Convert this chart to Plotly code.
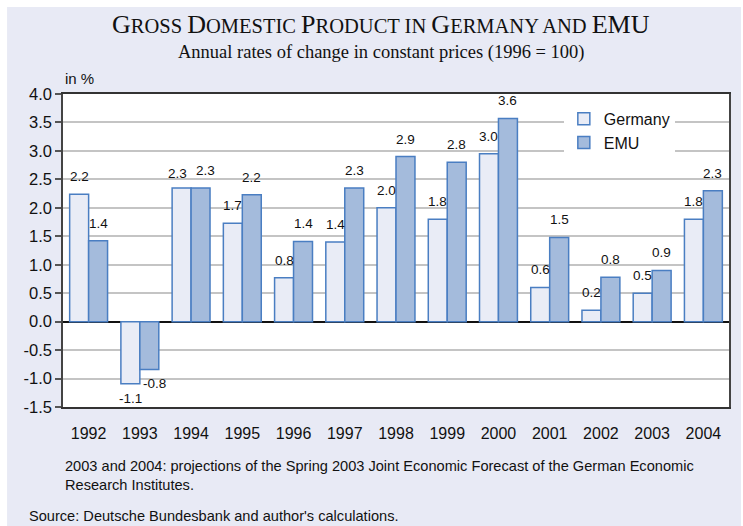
import plotly.graph_objects as go

years = ["1992", "1993", "1994", "1995", "1996", "1997", "1998",
         "1999", "2000", "2001", "2002", "2003", "2004"]
germany = [2.24, -1.09, 2.35, 1.73, 0.77, 1.40, 2.00, 1.80, 2.95, 0.60, 0.20, 0.50, 1.80]
emu = [1.42, -0.84, 2.35, 2.23, 1.41, 2.35, 2.90, 2.80, 3.57, 1.48, 0.78, 0.90, 2.30]
germany_labels = ["2.2", "-1.1", "2.3", "1.7", "0.8", "1.4", "2.0", "1.8", "3.0", "0.6", "0.2", "0.5", "1.8"]
emu_labels = ["1.4", "-0.8", "2.3", "2.2", "1.4", "2.3", "2.9", "2.8", "3.6", "1.5", "0.8", "0.9", "2.3"]
y_ticks = [-1.5, -1.0, -0.5, 0.0, 0.5, 1.0, 1.5, 2.0, 2.5, 3.0, 3.5, 4.0]

BG = "rgb(232,234,245)"
LINE = "#4A7EC2"
SANS = "Liberation Sans, Arial"
SERIF = "Liberation Serif, Times New Roman"

fig = go.Figure()
fig.add_trace(go.Bar(
    name="Germany", x=years, y=germany, legendgroup="g",
    marker=dict(color="#E9ECF6", line=dict(color=LINE, width=1.5)),
))
fig.add_trace(go.Bar(
    name="EMU", x=years, y=emu, legendgroup="e",
    marker=dict(color="#A4BBDC", line=dict(color=LINE, width=1.5)),
))

annotations = []
half = 9.5
lab_font = dict(family=SANS, size=13.5, color="#111")
for i in range(len(years)):
    g, e = germany[i], emu[i]
    spread = 4.5 if abs(g - e) < 0.3 and g > 0 else 0
    for v, lab, sx in ((g, germany_labels[i], -half - spread), (e, emu_labels[i], half + spread)):
        if v >= 0:
            annotations.append(dict(x=i, y=v, text=lab, xref="x", yref="y",
                                    xshift=sx, yshift=8 if spread == 0 or sx > 0 else 5,
                                    yanchor="bottom", showarrow=False, font=lab_font))
        else:
            annotations.append(dict(x=i, y=v, text=lab, xref="x", yref="y",
                                    xshift=sx + (5 if sx > 0 else 0), yshift=-5,
                                    yanchor="top", showarrow=False, font=lab_font))

big = "font-size:26px"
title_html = (f"<span style='{big}'>G</span>ROSS "
              f"<span style='{big}'>D</span>OMESTIC "
              f"<span style='{big}'>P</span>RODUCT IN "
              f"<span style='{big}'>G</span>ERMANY AND "
              f"<span style='{big}'>EMU</span>")

annotations += [
    dict(text=title_html, xref="paper", yref="paper", x=0.4775, y=1.222,
         xanchor="center", yanchor="middle", showarrow=False,
         font=dict(family=SERIF, size=20.5, color="#111")),
    dict(text="Annual rates of change in constant prices (1996 = 100)",
         xref="paper", yref="paper", x=0.4775, y=1.131, xanchor="center", yanchor="middle",
         showarrow=False, font=dict(family=SERIF, size=18.5, color="#111")),
    dict(text="in %", xref="paper", yref="paper", x=0.0, y=1.05,
         xanchor="left", yanchor="middle", showarrow=False,
         font=dict(family=SANS, size=15, color="#111")),
    dict(text="2003 and 2004: projections of the Spring 2003 Joint Economic Forecast of the German Economic<br>Research Institutes.",
         xref="paper", yref="paper", x=0.0, y=-0.155, xanchor="left", yanchor="top",
         align="left", showarrow=False, font=dict(family=SANS, size=14.6, color="#111")),
    dict(text="Source: Deutsche Bundesbank and author's calculations.",
         xref="paper", yref="paper", x=-0.054, y=-0.348, xanchor="left", yanchor="middle",
         align="left", showarrow=False, font=dict(family=SANS, size=14.6, color="#111")),
]

fig.update_layout(
    width=743, height=526,
    margin=dict(l=63, r=14, t=94, b=119),
    paper_bgcolor=BG, plot_bgcolor="white",
    barmode="group", bargap=0.26, bargroupgap=0,
    font=dict(family=SANS, color="#111"),
    showlegend=True,
    legend=dict(
        x=0.752, y=0.975, xanchor="left", yanchor="top",
        bgcolor="white", borderwidth=0,
        font=dict(family=SANS, size=16, color="#111"),
        tracegroupgap=0, itemwidth=30, entrywidth=100,
    ),
    xaxis=dict(
        type="category", showgrid=False, ticks="",
        range=[-0.5, len(years) - 0.5],
        tickfont=dict(size=16, color="#111"),
        ticklabelstandoff=11,
        showline=True, linecolor="#333", linewidth=1.5, mirror=True,
    ),
    yaxis=dict(
        range=[-1.5, 4.0], tickvals=y_ticks,
        ticktext=[f"{v:.1f}" for v in y_ticks],
        tickfont=dict(size=16.5, color="#111"),
        ticks="outside", ticklen=6, tickcolor="#555", tickwidth=1.5,
        showgrid=True, gridcolor="#C4C4C4", gridwidth=1.5,
        zeroline=True, zerolinecolor="#111", zerolinewidth=1.5,
        showline=True, linecolor="#444", linewidth=1.5, mirror=True,
    ),
    shapes=[
        dict(type="rect", xref="paper", yref="paper", x0=-0.2, x1=1.1, y0=1.278, y1=1.4,
             fillcolor="white", line=dict(width=0), layer="below"),
        dict(type="rect", xref="paper", yref="paper", x0=-0.2, x1=-0.084, y0=-0.5, y1=1.4,
             fillcolor="white", line=dict(width=0), layer="below"),
        dict(type="rect", xref="paper", yref="paper", x0=1.018, x1=1.1, y0=-0.5, y1=1.4,
             fillcolor="white", line=dict(width=0), layer="below"),
    ],
    annotations=annotations,
)

fig.write_html("out.html")
